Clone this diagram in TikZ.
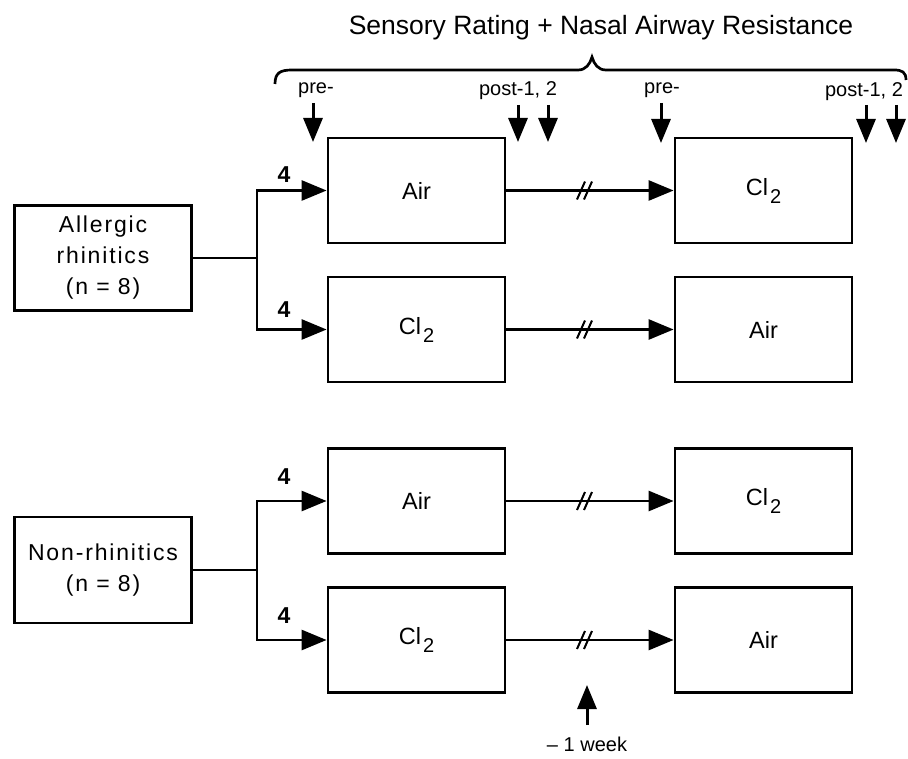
\documentclass[tikz,border=0pt]{standalone}
\usepackage{fontspec}
\setmainfont{Liberation Sans}
\newfontfamily\boxfont[LetterSpace=8]{Liberation Sans}
\usetikzlibrary{arrows.meta,calc}
\newcommand{\ClTwo}{Cl\hspace{2pt}\raisebox{-8pt}{\fontsize{20}{20}\selectfont 2}}
\begin{document}
\begin{tikzpicture}[x=1pt,y=-1pt,
  blk/.style={draw,line width=2.8pt,minimum width=177pt,minimum height=105pt,inner sep=0pt,font=\fontsize{23.5}{23.5}\selectfont},
  grp/.style={draw,line width=2.8pt,minimum width=177pt,minimum height=105pt,inner sep=0pt,align=center,font=\boxfont\fontsize{23}{31}\selectfont},
  conn/.style={line width=2.7pt},
  arr/.style={line width=2.7pt,-{Triangle[length=25pt,width=20pt]}},
  darr/.style={line width=3pt,-{Triangle[length=24pt,width=19pt]}},
  num/.style={font=\bfseries\fontsize{23}{23}\selectfont},
  lbl/.style={font=\fontsize{20}{20}\selectfont},
  brk/.style={line width=2pt},
  brc/.style={line width=2.7pt}]

\useasboundingbox (0,0) rectangle (908,759);

% title and brace
\node[font=\fontsize{26.5}{26.5}\selectfont] (title) at (601,28) {Sensory Rating + Nasal Airway Resistance};
\draw[brc] (275,84) .. controls (275,73) and (280,70) .. (292,70) -- (578,70)
  .. controls (586,70) and (590,64) .. (592,57)
  .. controls (594,64) and (598,70) .. (606,70) -- (894,70)
  .. controls (902,70) and (906,72) .. (906,80);

% time-point labels
\node[lbl] (pre1) at (316,90) {pre-};
\node[lbl] (post1) at (518,91) {post-1, 2};
\node[lbl] (pre2) at (662,90) {pre-};
\node[lbl] (post2) at (864,92) {post-1, 2};

\coordinate (a1s) at (313,103); \coordinate (a1e) at (313,142);
\coordinate (a2s) at (518,105); \coordinate (a2e) at (518,142);
\coordinate (a3s) at (548,105); \coordinate (a3e) at (548,142);
\coordinate (a4s) at (661,103); \coordinate (a4e) at (661,143);
\coordinate (a5s) at (866,105); \coordinate (a5e) at (866,143);
\coordinate (a6s) at (896,105); \coordinate (a6e) at (896,143);
\foreach \i in {1,...,6} \draw[darr] (a\i s) -- (a\i e);

% groups
\node[grp] (G1) at (103,258) {Allergic\\rhinitics\\(n = 8)};
\node[grp,minimum height=106pt] (G2) at (103,570) {Non-rhinitics\\(n = 8)};

% session boxes
\node[blk] (L1) at (416.5,190.5) {Air};
\node[blk] (L2) at (416.5,329.5) {\ClTwo};
\node[blk] (L3) at (416.5,501) {Air};
\node[blk] (L4) at (416.5,640) {\ClTwo};
\node[blk] (R1) at (763.5,190.5) {\ClTwo};
\node[blk] (R2) at (763.5,329.5) {Air};
\node[blk] (R3) at (763.5,501) {\ClTwo};
\node[blk] (R4) at (763.5,640) {Air};

% splits
\coordinate (s1) at (257,258);
\coordinate (s2) at (257,570);
\draw[conn] (G1.east) -- (s1);
\draw[conn] (G2.east) -- (s2);
\draw[arr] (s1) |- (L1.west);
\draw[arr] (s1) |- (L2.west);
\draw[arr] (s2) |- (L3.west);
\draw[arr] (s2) |- (L4.west);

\node[num] (n1) at (284,175) {4};
\node[num] (n2) at (284,310) {4};
\node[num] (n3) at (284,477) {4};
\node[num] (n4) at (284,616) {4};

% crossover connectors with break marks
\foreach \r in {1,2,3,4} {
  \draw[arr] (L\r.east) -- coordinate[pos=0.47] (b\r) (R\r.west);
  \draw[brk] ($(b\r)+(-8,9)$) -- ($(b\r)+(0,-9)$);
  \draw[brk] ($(b\r)+(-1,9)$) -- ($(b\r)+(7,-9)$);
}

% washout arrow
\node[font=\fontsize{20}{20}\selectfont,inner sep=0pt] (wk) at (587,744) {\textendash\ 1 week};
\coordinate (wks) at (587,725);
\coordinate (wke) at (587,685);
\draw[darr] (wks) -- (wke);
\end{tikzpicture}
\end{document}
